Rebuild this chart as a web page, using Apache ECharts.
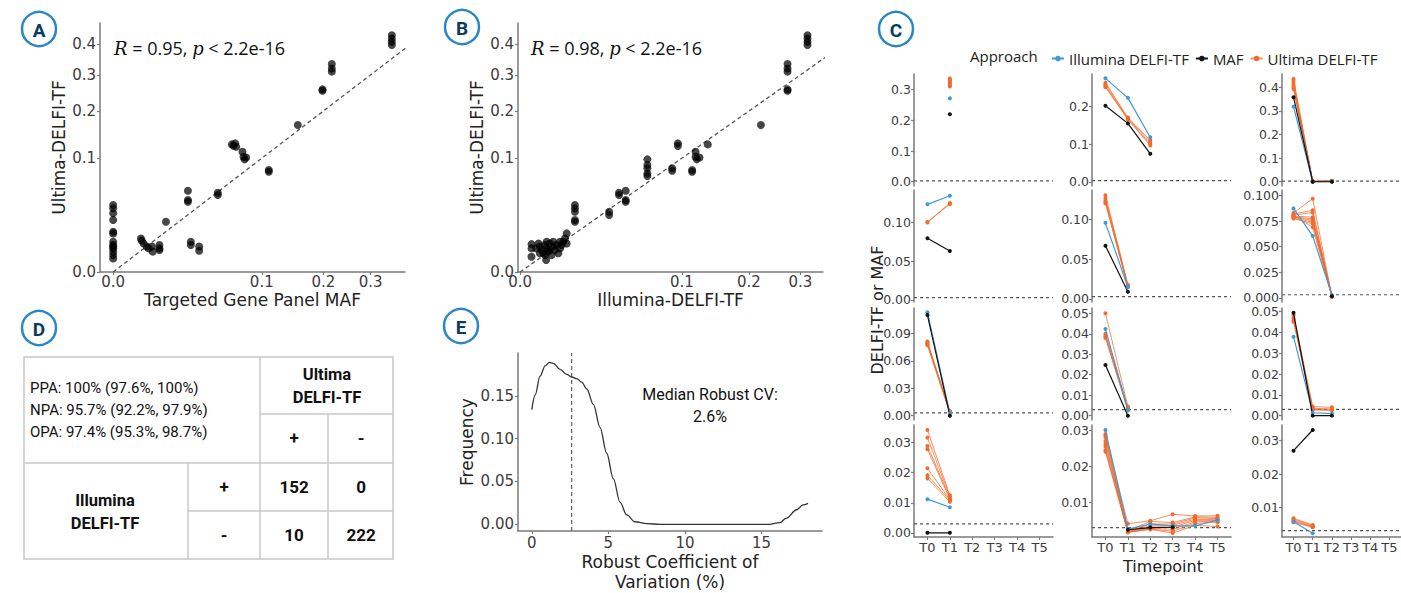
<!DOCTYPE html>
<html><head><meta charset="utf-8">
<script src="https://cdn.jsdelivr.net/npm/echarts@6/dist/echarts.min.js"></script>
<style>html,body{margin:0;padding:0;background:#fff}#c{width:1401px;height:593px}</style>
</head><body><div id="c"></div><script>
// ---------------- DATA ----------------
// Panel A: Targeted gene panel MAF vs Ultima-DELFI-TF
const aMAF = [0,0,0,0,0,0,0,0,0,0,0,0,0,
  0.0035,0.0037,0.0042,0.0051,0.0057,0.0068,0.0071,0.0097,0.0097,0.0097,
  0.0126,
  0.0253,0.0253,0.0253,
  0.0273,0.0273,0.0335,0.0335,
  0.0496,0.0496,
  0.0638,0.0655,0.0674,0.0685,
  0.0757,0.0769,0.0781,0.0801,
  0.1097,0.1097,
  0.1544,
  0.1984,0.1984,
  0.2165,0.2165,0.2165,
  0.3516,0.3516,0.3516,0.3516];
const aUltima = [0.0346,0.0313,0.0266,0.0209,0.0125,0.0115,0.0071,0.0056,0.0050,0.0043,0.0032,0.0022,0.0014,
  0.0087,0.0076,0.0063,0.0050,0.0043,0.0050,0.0032,0.0056,0.0043,0.0037,
  0.0195,
  0.051,0.040,0.0382,
  0.0071,0.0056,0.0050,0.0035,
  0.0486,0.0457,
  0.1258,0.1232,0.1278,0.1212,
  0.1117,0.1026,0.098,0.1014,
  0.0803,0.0777,
  0.1667,
  0.2575,0.2537,
  0.334,0.320,0.310,
  0.433,0.421,0.409,0.398];
// Panel B: Illumina-DELFI-TF vs Ultima-DELFI-TF
const bIllumina = [0.0005,0.0005,0.0005,0.0015,0.0018,0.0021,0.0024,0.0026,0.0027,0.0030,0.0034,0.0038,0.0042,0.0046,0.0051,0.0056,0.0061,0.0061,0.0077,0.0083,0.0083,0.0024,0.0034,0.0042,0.0015,0.0027,0.0010,0.0013,0.0066,0.0071,
  0.0115,0.0115,0.0115,0.0115,0.0115,
  0.0303,0.0303,
  0.0374,0.0374,0.0426,0.0426,0.0426,
  0.0619,0.0619,0.0619,0.0619,0.0619,
  0.0884,0.0884,
  0.0951,0.0951,
  0.1131,0.1131,
  0.1176,0.1176,0.1193,0.1230,
  0.1346,
  0.2216,
  0.2732,0.2732,0.2732,0.2732,0.2732,
  0.3155,0.3155,0.3155,0.3155];
const bUltima = [0.0060,0.0043,0.0018,0.0050,0.0037,0.0027,0.0056,0.0011,0.0043,0.0032,0.0063,0.0022,0.0050,0.0037,0.0056,0.0027,0.0071,0.0043,0.0087,0.0115,0.0063,0.0022,0.0037,0.0071,0.0027,0.0071,0.0043,0.0063,0.0056,0.0071,
  0.0346,0.0313,0.0281,0.0209,0.0195,
  0.0281,0.0251,
  0.0486,0.0457,0.051,0.040,0.0382,
  0.098,0.0883,0.083,0.0751,0.0711,
  0.083,0.0792,
  0.1278,0.1225,
  0.0803,0.0777,
  0.1117,0.1026,0.098,0.1014,
  0.1258,
  0.1667,
  0.334,0.320,0.310,0.2575,0.2537,
  0.433,0.421,0.409,0.398];
const abTicks = [0, 0.1, 0.2, 0.3, 0.4];
const abIdentity = [0, 0.4];
const rTextA = ['R', ' = 0.95, ', 'p', ' < 2.2e-16'];
const rTextB = ['R', ' = 0.98, ', 'p', ' < 2.2e-16'];

// Panel D: concordance table
const dStats = ['PPA: 100% (97.6%, 100%)', 'NPA: 95.7% (92.2%, 97.9%)', 'OPA: 97.4% (95.3%, 98.7%)'];
const dColHeader = ['Ultima', 'DELFI-TF'];
const dRowHeader = ['Illumina', 'DELFI-TF'];
const dSigns = ['+', '-'];
const dCounts = [[152, 0], [10, 222]];

// Panel E: density of robust CV
const eCV = [0,0.22,0.54,0.87,1.15,1.41,1.85,2.28,2.61,2.93,3.26,3.59,4.02,4.46,4.89,5.33,5.76,6.2,6.74,7.5,8.4,10,12,14,15.5,16.2,16.6,17.3,17.7,18.04];
const eDensity = [0.134,0.151,0.173,0.185,0.189,0.188,0.181,0.175,0.172,0.170,0.166,0.158,0.140,0.113,0.083,0.053,0.026,0.011,0.003,0.0008,0,0,0,0,0,0.002,0.007,0.017,0.0226,0.0245];
const eMedianCV = 2.6;
const eXTicks = [0, 5, 10, 15];
const eYTicks = [0, 0.05, 0.10, 0.15];
const eNote = ['Median Robust CV:', '2.6%'];

// Panel C: longitudinal tumor fraction per patient
const timepoints = ['T0','T1','T2','T3','T4','T5'];
const detectionLimit = 0.003;
const c1Ill = [null, 0.272];
const c1Maf = [null, 0.2195];
const c1Ult = [[null,0.336],[null,0.331],[null,0.326],[null,0.321],[null,0.315],[null,0.310]];
const c2Ill = [0.2735, 0.222, 0.118];
const c2Maf = [0.201, 0.1545, 0.074];
const c2Ult = [[0.262,0.170,0.110],[0.258,0.168,0.105],[0.254,0.166,0.100],[0.250,0.165,0.096]];
const c3Ill = [0.318, 0.0, 0.001];
const c3Maf = [0.358, 0.0, 0.0];
const c3Ult = [[0.435,0.002,0.003],[0.425,0.003,0.004],[0.415,0.001,0.002],[0.405,0.002,0.003],[0.398,0.001,0.002],[0.392,0.002,0.003]];
const c4Ill = [0.1233, 0.1344];
const c4Maf = [0.0795, 0.0631];
const c4Ult = [[0.100,0.1250],[0.1005,0.1235]];
const c5Ill = [0.0957, 0.0147];
const c5Maf = [0.0669, 0.0092];
const c5Ult = [[0.1305,0.0180],[0.127,0.0170],[0.124,0.0165],[0.122,0.0160],[0.120,0.0155]];
const c6Ill = [0.0875, 0.0606, 0.0028];
const c6Maf = [null, null, 0.0015];
const c6Ult = [[0.083,0.097,0.0015],[0.082,0.0856,0.001],[0.081,0.0834,0.002],[0.080,0.0788,0.0012],[0.0795,0.0772,0.0018],[0.079,0.0756,0.001],[0.078,0.074,0.0015],[0.0775,0.0725,0.002],[0.0805,0.069,0.0012]];
const c7Ill = [0.113, 0.0026];
const c7Maf = [0.110, 0.0];
const c7Ult = [[0.081,0.005],[0.080,0.004],[0.079,0.0045],[0.078,0.0035],[0.077,0.003]];
const c8Ill = [0.0423, 0.0028];
const c8Maf = [0.0248, 0.0];
const c8Ult = [[0.050,0.0045],[0.040,0.004],[0.039,0.0035],[0.0385,0.003],[0.038,0.0025]];
const c9Ill = [0.038, 0.0014, 0.0010];
const c9Maf = [0.0495, 0.0, 0.0];
const c9Ult = [[0.0484,0.0043,0.004],[0.047,0.0035,0.0032],[0.046,0.003,0.0028],[0.0452,0.0027,0.0025]];
const c10Ill = [0.0112, 0.0085];
const c10Maf = [0, 0];
const c10Ult = [[0.0342,0.0125],[0.0317,0.0120],[0.0289,0.0117],[0.0278,0.0112],[0.0215,0.0110],[0.0192,0.0107],[0.0181,0.0103]];
const c11Ill = [0.030, 0.0026, 0.004, 0.0035, 0.0035, 0.0051];
const c11Maf = [null, 0.0024, 0.0030, 0.0031, null, null];
const c11Ult = [[0.0289,0.0041,0.0049,0.0067,0.0062,0.0063],[0.0285,0.0022,0.0047,0.0044,0.0060,0.0058],[0.0280,0.0020,0.0040,0.0040,0.0057,0.0055],[0.0270,0.0019,0.0035,0.0036,0.0053,0.0052],[0.0262,0.0018,0.0031,0.0031,0.0050,0.0050],[0.0255,0.0018,0.0028,0.0025,0.0046,0.0048],[0.0245,0.0017,0.0026,0.0020,0.0042,0.0045],[0.0240,0.0017,0.0025,0.0015,0.0036,0.0033]];
const c12Ill = [0.0057, 0.0022];
const c12Maf = [0.027, 0.0332];
const c12Ult = [[0.0067,0.0047],[0.0064,0.0045],[0.0061,0.0043],[0.0058,0.0041],[0.0055,0.0040]];
const cTicks = [[0,0.1,0.2,0.3],[0,0.1,0.2],[0,0.1,0.2,0.3,0.4],
  [0,0.05,0.1],[0,0.05,0.1],[0,0.025,0.05,0.075,0.1],
  [0,0.03,0.06,0.09],[0,0.01,0.02,0.03,0.04,0.05],[0,0.01,0.02,0.03,0.04,0.05],
  [0,0.01,0.02,0.03],[0.01,0.02,0.03],[0.01,0.02,0.03]];
const cDecimals = [1,1,1, 2,2,3, 2,2,2, 2,2,2];
const seriesNames = ['Illumina DELFI-TF', 'MAF', 'Ultima DELFI-TF'];

// ---------------- STYLE / LAYOUT ----------------
const FONT_AX = 'DejaVu Sans', FONT_T = 'Open Sans', FONT_R = 'Roboto';
const AXIS_COL = '#7a7a7a', LBL_COL = '#3c3c3c';
const BLUE = '#3d9ad8', ORANGE = '#f26a2c', BLACK = '#111111';
const cColLeft = [914, 1092, 1282];
const cRowTop = [74, 190, 308, 425];
const cW = 139, cH = 112;
const cYRange = [[-0.014,0.351],[-0.011,0.285],[-0.018,0.456],
  [-0.0026,0.1418],[-0.0038,0.137],[-0.0041,0.1055],
  [-0.0047,0.1177],[-0.0021,0.0526],[-0.0021,0.0518],
  [-0.0014,0.0359],[0.0004,0.0314],[0.0011,0.0347]];
const NAME_STYLE = { fontFamily: FONT_AX, fontSize: 17, color: '#222', lineHeight: 18 };

const sq = Math.sqrt;
function baseAxis(extra) {
  return Object.assign({
    type: 'value',
    splitLine: { show: false },
    axisLine: { show: true, onZero: false, lineStyle: { color: AXIS_COL, width: 1.5 } },
    axisTick: { show: true, length: 3, lineStyle: { color: AXIS_COL, width: 1.2 } },
    axisLabel: { color: LBL_COL, fontFamily: FONT_AX, fontSize: 15, margin: 4 },
    nameTextStyle: NAME_STYLE
  }, extra);
}
function ticksCfg(vals, fmt, size, margin, lh) {
  return {
    tick: { show: true, length: 3, customValues: vals, lineStyle: { color: AXIS_COL, width: 1.2 } },
    label: { customValues: vals, formatter: fmt, color: LBL_COL, fontFamily: FONT_AX, fontSize: size, margin: margin, lineHeight: lh || size + 2 }
  };
}

const grid = [], xAxis = [], yAxis = [], series = [];

// ---- A & B (square-root scaled axes) ----
const sqT = abTicks.map(sq);
const sqFmt = v => (v * v).toFixed(1);
function addScatter(left, xmin, xmax, xName, xs, ys) {
  const gi = grid.length;
  grid.push({ left: left, top: 23, width: 305, height: 249 });
  const t = ticksCfg(sqT, sqFmt, 15, 2, 15);
  xAxis.push(baseAxis({ gridIndex: gi, min: xmin, max: xmax, name: xName, nameLocation: 'middle', nameGap: 19, axisTick: t.tick, axisLabel: t.label }));
  const t2 = ticksCfg(sqT, sqFmt, 15, 4);
  yAxis.push(baseAxis({ gridIndex: gi, min: 0, max: 0.692, name: 'Ultima-DELFI-TF', nameLocation: 'middle', nameGap: 31, axisTick: t2.tick, axisLabel: t2.label }));
  series.push({ type: 'line', xAxisIndex: gi, yAxisIndex: gi, data: abIdentity.map(v => [sq(v), sq(v)]), symbol: 'none', silent: true,
    lineStyle: { color: '#555', width: 1.3, type: [4, 3] }, z: 1 });
  series.push({ type: 'scatter', xAxisIndex: gi, yAxisIndex: gi, data: xs.map((x, i) => [sq(x), sq(ys[i])]), symbolSize: 8,
    itemStyle: { color: 'rgba(0,0,0,0.9)' }, z: 2 });
}
addScatter(100, -0.028, 0.621, 'Targeted Gene Panel MAF', aMAF, aUltima);
addScatter(518, -0.004, 0.592, 'Illumina-DELFI-TF', bIllumina, bUltima);

// ---- E ----
{
  const gi = grid.length;
  grid.push({ left: 518, top: 353, width: 304, height: 184 });
  const tx = ticksCfg(eXTicks, v => String(v), 15, 3);
  xAxis.push(baseAxis({ gridIndex: gi, min: -0.9, max: 18.95, name: 'Robust Coefficient of\nVariation (%)', nameLocation: 'middle', nameGap: 17,
    nameTextStyle: { fontFamily: FONT_AX, fontSize: 17, color: '#222', lineHeight: 20 }, axisTick: tx.tick, axisLabel: tx.label }));
  const ty = ticksCfg(eYTicks, v => v.toFixed(2), 15, 4);
  yAxis.push(baseAxis({ gridIndex: gi, min: -0.0079, max: 0.2, name: 'Frequency', nameLocation: 'middle', nameGap: 42, axisTick: ty.tick, axisLabel: ty.label }));
  series.push({ type: 'line', xAxisIndex: gi, yAxisIndex: gi, data: [[eMedianCV, -0.0079], [eMedianCV, 0.2]], symbol: 'none', silent: true,
    lineStyle: { color: '#666', width: 1.3, type: [4, 3] } });
  series.push({ type: 'line', xAxisIndex: gi, yAxisIndex: gi, data: eCV.map((x, i) => [x, eDensity[i]]), symbol: 'none', smooth: 0.35, smoothMonotone: 'x',
    lineStyle: { color: '#333', width: 1.3 } });
}

// ---- C facets ----
const cIll = [c1Ill,c2Ill,c3Ill,c4Ill,c5Ill,c6Ill,c7Ill,c8Ill,c9Ill,c10Ill,c11Ill,c12Ill];
const cMaf = [c1Maf,c2Maf,c3Maf,c4Maf,c5Maf,c6Maf,c7Maf,c8Maf,c9Maf,c10Maf,c11Maf,c12Maf];
const cUlt = [c1Ult,c2Ult,c3Ult,c4Ult,c5Ult,c6Ult,c7Ult,c8Ult,c9Ult,c10Ult,c11Ult,c12Ult];
const toPts = arr => arr.map((v, i) => v == null ? null : [i, v]).filter(p => p);
for (let k = 0; k < 12; k++) {
  const r = Math.floor(k / 3), c = k % 3;
  const gi = grid.length;
  grid.push({ left: cColLeft[c], top: cRowTop[r], width: cW, height: cH });
  const bottom = r === 3;
  const tIdx = timepoints.map((t, i) => i);
  xAxis.push(baseAxis({ gridIndex: gi, min: -0.6, max: 5.6,
    axisLine: { show: bottom, onZero: false, lineStyle: { color: AXIS_COL, width: 1.5 } },
    axisTick: { show: bottom, length: 3, customValues: tIdx, lineStyle: { color: AXIS_COL } },
    axisLabel: { show: bottom, customValues: tIdx, formatter: v => timepoints[Math.round(v)], color: LBL_COL, fontFamily: FONT_AX, fontSize: 13, margin: 4, lineHeight: 13 } }));
  const dec = cDecimals[k];
  const ty = ticksCfg(cTicks[k], v => v.toFixed(dec), 12.5, 3, 10);
  yAxis.push(baseAxis({ gridIndex: gi, min: cYRange[k][0], max: cYRange[k][1], axisTick: ty.tick, axisLabel: ty.label }));
  series.push({ type: 'line', xAxisIndex: gi, yAxisIndex: gi, data: [[-0.6, detectionLimit], [5.6, detectionLimit]], symbol: 'none', silent: true,
    lineStyle: { color: '#555', width: 1.2, type: [3, 3] }, z: 1 });
  series.push({ name: seriesNames[0], type: 'line', xAxisIndex: gi, yAxisIndex: gi, data: toPts(cIll[k]), symbol: 'circle', symbolSize: 4,
    itemStyle: { color: BLUE }, lineStyle: { color: BLUE, width: 1.2 }, z: 3 });
  series.push({ name: seriesNames[1], type: 'line', xAxisIndex: gi, yAxisIndex: gi, data: toPts(cMaf[k]), symbol: 'circle', symbolSize: 4,
    itemStyle: { color: BLACK }, lineStyle: { color: BLACK, width: 1.2 }, z: 3 });
  cUlt[k].forEach(rep => {
    series.push({ name: seriesNames[2], type: 'line', xAxisIndex: gi, yAxisIndex: gi, data: toPts(rep), symbol: 'circle', symbolSize: 4,
      itemStyle: { color: ORANGE }, lineStyle: { color: ORANGE, width: 1, opacity: 0.75 }, z: 2 });
  });
}

// ---------------- GRAPHICS ----------------
const graphic = [];
function panelLabel(x, y, ch) {
  graphic.push({ type: 'circle', shape: { cx: x, cy: y, r: 17 }, style: { fill: '#fff', stroke: '#2b86c4', lineWidth: 2.5 }, z: 10 });
  graphic.push({ type: 'text', x: x, y: y + 1, style: { text: ch, fontFamily: FONT_R, fontWeight: 'bold', fontSize: 19, fill: '#0c3b5e', align: 'center', verticalAlign: 'middle' }, z: 11 });
}
panelLabel(39, 29, 'A'); panelLabel(462, 27, 'B'); panelLabel(896, 29, 'C'); panelLabel(39, 328, 'D'); panelLabel(461, 326, 'E');

function rText(x, parts) {
  graphic.push({ type: 'text', x: x, y: 48, style: {
    text: '{i|' + parts[0] + '}' + parts[1] + '{i|' + parts[2] + '}' + parts[3],
    fontFamily: FONT_T, fontSize: 18, fill: '#111', verticalAlign: 'middle', align: 'left',
    rich: { i: { fontFamily: 'DejaVu Serif', fontStyle: 'italic', fontSize: 18, fill: '#111' } } } });
}
rText(114, rTextA); rText(531, rTextB);

graphic.push({ type: 'text', x: 710, y: 405, style: { text: eNote.join('\n'), fontFamily: FONT_R, fontSize: 16, fill: '#111', align: 'center', verticalAlign: 'middle', lineHeight: 22 } });
graphic.push({ type: 'text', x: 970, y: 56, style: { text: 'Approach', fontFamily: FONT_T, fontSize: 15, fill: '#222', align: 'left', verticalAlign: 'middle' } });
graphic.push({ type: 'text', x: 877, y: 310, rotation: Math.PI / 2, style: { text: 'DELFI-TF or MAF', fontFamily: FONT_AX, fontSize: 16, fill: '#222', align: 'center', verticalAlign: 'middle' } });
graphic.push({ type: 'text', x: 1163, y: 566, style: { text: 'Timepoint', fontFamily: FONT_AX, fontSize: 16, fill: '#222', align: 'center', verticalAlign: 'middle' } });

// Table D
const TB = '#c8c8c8';
graphic.push({ type: 'rect', shape: { x: 24, y: 357, width: 369, height: 202 }, style: { fill: 'none', stroke: TB, lineWidth: 1.5 } });
[[260,357,260,559],[24,463,393,463],[260,414,393,414],[328,414,328,559],[188,463,188,559],[188,511,393,511]].forEach(l => {
  graphic.push({ type: 'line', shape: { x1: l[0], y1: l[1], x2: l[2], y2: l[3] }, style: { stroke: TB, lineWidth: 1.5 } });
});
function tText(x, y, txt, bold, size, align) {
  graphic.push({ type: 'text', x: x, y: y, style: { text: txt, fontFamily: FONT_R, fontWeight: bold ? 'bold' : 'normal', fontSize: size, fill: '#111', align: align || 'center', verticalAlign: 'middle' } });
}
dStats.forEach((s, i) => tText(30, 388 + i * 22, s, false, 15, 'left'));
tText(327, 374, dColHeader[0], true, 16.5); tText(327, 397, dColHeader[1], true, 16.5);
tText(294, 438, dSigns[0], true, 17); tText(361, 438, dSigns[1], true, 17);
tText(105, 500, dRowHeader[0], true, 16.5); tText(105, 523, dRowHeader[1], true, 16.5);
tText(224, 487, dSigns[0], true, 17); tText(224, 535, dSigns[1], true, 17);
dCounts.forEach((row, i) => row.forEach((v, j) => tText([294, 361][j], [487, 535][i], String(v), true, 17)));

const chart = echarts.init(document.getElementById('c'), null, { renderer: 'svg', width: 1401, height: 593 });
chart.setOption({
  backgroundColor: '#fff',
  animation: false,
  grid, xAxis, yAxis, series, graphic,
  legend: { data: seriesNames, left: 1046, top: 46, itemWidth: 12, itemHeight: 7, itemGap: 6,
    textStyle: { fontFamily: FONT_T, fontSize: 15, color: '#222' } }
});
</script></body></html>
